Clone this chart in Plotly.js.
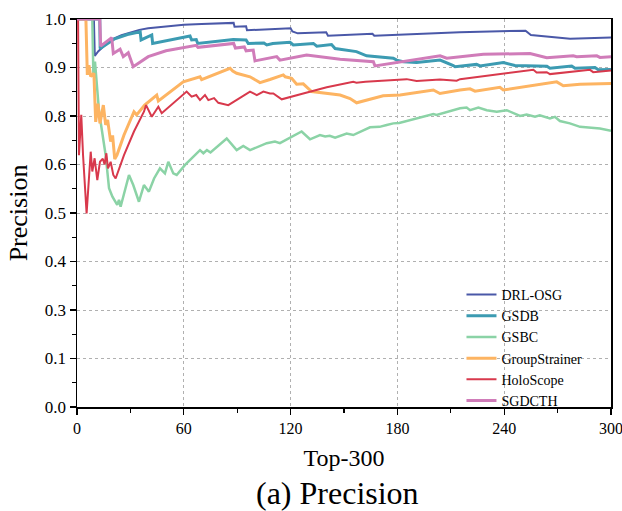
<!DOCTYPE html>
<html>
<head>
<meta charset="utf-8">
<script src="https://cdn.plot.ly/plotly-3.0.1.min.js"></script>
<style>html,body{margin:0;padding:0;background:#fff;}#chart{width:622px;height:511px;}</style>
</head>
<body>
<div id="chart"></div>
<script>
// ---- data ----
const seriesNames = ['DRL-OSG', 'GSDB', 'GSBC', 'GroupStrainer', 'HoloScope', 'SGDCTH'];

const drlX = [0, 9.5, 10, 12, 15, 20, 25, 30, 35, 40, 50, 60, 70, 80, 88, 88.5, 95, 95.5, 108, 120, 121, 124, 140, 141, 166, 167, 215, 252, 255, 265, 277, 300];
const drlY = [1.0, 1.0, 0.905, 0.917, 0.930, 0.948, 0.958, 0.966, 0.972, 0.976, 0.981, 0.985, 0.987, 0.989, 0.990, 0.980, 0.981, 0.971, 0.973, 0.976, 0.968, 0.963, 0.966, 0.957, 0.962, 0.957, 0.966, 0.970, 0.959, 0.954, 0.949, 0.952];

const gsdbX = [0, 12.8, 13, 20.8, 28.3, 35.5, 36, 42, 42.5, 59.7, 63.5, 64.4, 67, 67.8, 87.8, 95, 96.2, 105, 106.6, 110, 119.7, 121.5, 132.8, 134.7, 143, 145, 157, 162.7, 177.7, 179.6, 183.3, 190.8, 204, 211.4, 212.4, 224.5, 226.4, 239.5, 246, 264, 265.7, 277.9, 279.8, 291, 292.9, 300];
const gsdbY = [1.0, 1.0, 0.924, 0.948, 0.960, 0.967, 0.946, 0.959, 0.937, 0.954, 0.956, 0.946, 0.947, 0.937, 0.947, 0.946, 0.937, 0.938, 0.933, 0.937, 0.940, 0.933, 0.937, 0.930, 0.934, 0.924, 0.916, 0.905, 0.899, 0.894, 0.890, 0.888, 0.894, 0.880, 0.877, 0.883, 0.879, 0.888, 0.880, 0.878, 0.873, 0.879, 0.873, 0.875, 0.869, 0.870];

const gsbcX = [0, 8.6, 9.2, 10.1, 12.4, 16.1, 18, 19.9, 22.6, 23.6, 24.5, 29.2, 31.6, 34.8, 37.6, 40.4, 43.3, 46.6, 49.4, 51.3, 54.1, 56, 60.7, 69.1, 71, 73, 75, 84.1, 89.7, 93.4, 97.2, 106.6, 111.2, 114, 126.2, 130.9, 136.5, 139.4, 142, 145, 151.5, 155.2, 164.6, 170, 174, 177.7, 181, 200.2, 202, 215.2, 218.9, 220.8, 225.5, 230.2, 235.8, 241.4, 248.9, 252.6, 257.3, 260, 265.7, 268.5, 271.3, 276.9, 282.6, 293.8, 300];
const gsbcY = [1.0, 1.0, 0.856, 0.890, 0.761, 0.649, 0.564, 0.542, 0.521, 0.534, 0.516, 0.598, 0.572, 0.529, 0.572, 0.555, 0.589, 0.615, 0.602, 0.632, 0.602, 0.598, 0.624, 0.662, 0.654, 0.662, 0.656, 0.692, 0.662, 0.673, 0.662, 0.680, 0.684, 0.680, 0.710, 0.690, 0.701, 0.697, 0.699, 0.694, 0.705, 0.701, 0.721, 0.722, 0.727, 0.731, 0.732, 0.755, 0.753, 0.770, 0.772, 0.765, 0.772, 0.765, 0.761, 0.765, 0.750, 0.754, 0.748, 0.752, 0.744, 0.748, 0.737, 0.731, 0.722, 0.718, 0.712];

const gsX = [0, 5.0, 5.8, 6.7, 7.7, 9.5, 10.5, 11.8, 12.9, 14.8, 16.1, 17.2, 18.9, 20, 21.2, 22.5, 26.4, 32, 33.5, 38, 44.8, 45.7, 59.7, 69.1, 70, 86, 87.5, 89.7, 97.2, 102.8, 108.4, 115.9, 117, 120.6, 123.4, 127.1, 131.8, 140.3, 147.8, 153.4, 157.1, 172, 181.5, 200.2, 203.9, 215.2, 220.8, 223.6, 237.6, 239.5, 269.5, 273.2, 282.6, 300];
const gsY = [1.0, 1.0, 0.856, 0.881, 0.852, 0.860, 0.735, 0.782, 0.731, 0.778, 0.727, 0.740, 0.684, 0.700, 0.639, 0.650, 0.701, 0.761, 0.753, 0.778, 0.804, 0.789, 0.838, 0.851, 0.844, 0.873, 0.866, 0.860, 0.851, 0.836, 0.844, 0.856, 0.851, 0.847, 0.832, 0.833, 0.813, 0.808, 0.804, 0.795, 0.784, 0.802, 0.804, 0.817, 0.808, 0.817, 0.820, 0.814, 0.824, 0.817, 0.838, 0.828, 0.832, 0.834];

const holoX = [0, 0.6, 1.1, 2.4, 3.4, 5.4, 7.7, 8.6, 9.9, 11.4, 12.9, 14.5, 15.5, 16.5, 17.4, 18.9, 20.4, 21.7, 26.4, 32, 37.6, 38.8, 42, 45.7, 47.6, 61.6, 64.4, 67, 69.1, 71.9, 73.8, 77, 79.4, 85, 97.2, 101, 104.7, 108.4, 110.3, 112.2, 115, 127.1, 140.3, 155.2, 157, 162, 185.2, 190.8, 203.9, 213.3, 215.2, 256.4, 258.2, 263.9, 265.7, 288.2, 290, 300];
const holoY = [1.0, 1.0, 0.649, 0.753, 0.649, 0.499, 0.658, 0.607, 0.641, 0.585, 0.632, 0.640, 0.625, 0.654, 0.615, 0.632, 0.598, 0.589, 0.649, 0.710, 0.761, 0.778, 0.748, 0.774, 0.757, 0.813, 0.800, 0.804, 0.791, 0.804, 0.791, 0.796, 0.784, 0.778, 0.813, 0.804, 0.813, 0.808, 0.808, 0.802, 0.793, 0.808, 0.824, 0.838, 0.836, 0.838, 0.845, 0.840, 0.844, 0.841, 0.845, 0.869, 0.862, 0.863, 0.858, 0.869, 0.863, 0.867];

const sgdX = [0, 12.8, 13.3, 19.5, 20.4, 24.2, 26, 28.8, 31.6, 35, 40, 50, 60, 67, 68, 88, 89, 94, 95, 99, 100, 108.4, 112.2, 114, 129, 147.8, 166.5, 167.4, 204, 207.7, 228.3, 254.5, 263.9, 278.8, 280.7, 292, 293.8, 300];
const sgdY = [1.0, 1.0, 0.930, 0.952, 0.911, 0.922, 0.903, 0.913, 0.877, 0.888, 0.903, 0.918, 0.927, 0.932, 0.927, 0.937, 0.925, 0.928, 0.918, 0.920, 0.892, 0.899, 0.903, 0.894, 0.907, 0.896, 0.890, 0.879, 0.905, 0.899, 0.909, 0.911, 0.900, 0.905, 0.903, 0.905, 0.901, 0.903];

const xTickVals = [0, 60, 120, 180, 240, 300];
const xTickText = ['0', '60', '120', '180', '240', '300'];
const yTickVals = [0, 0.125, 0.25, 0.375, 0.5, 0.625, 0.75, 0.875, 1.0];
const yTickText = ['0.0', '0.1', '0.3', '0.4', '0.5', '0.6', '0.8', '0.9', '1.0'];

// ---- styling ----
const colors = ['#4a58a8', '#3c9bb2', '#8bd3a6', '#fdb462', '#d8394c', '#d07cb9'];
const widths = [2, 3, 2.5, 3, 2, 3];
const xs = [drlX, gsdbX, gsbcX, gsX, holoX, sgdX];
const ys = [drlY, gsdbY, gsbcY, gsY, holoY, sgdY];

const font = '"Liberation Serif", "Times New Roman", Times, serif';

const traces = seriesNames.map((n, i) => ({
  type: 'scatter', mode: 'lines', name: n,
  x: xs[i], y: ys[i],
  line: {color: colors[i], width: widths[i]}
}));

const layout = {
  width: 622, height: 511,
  margin: {l: 77, r: 11, t: 19, b: 104},
  paper_bgcolor: '#fff', plot_bgcolor: '#fff',
  font: {family: font, color: '#000', size: 15},
  showlegend: true,
  legend: {
    x: 0.72, xanchor: 'left', y: 0.33, yanchor: 'top',
    bgcolor: 'rgba(0,0,0,0)', borderwidth: 0,
    font: {family: font, size: 14, color: '#000'},
    tracegroupgap: 0
  },
  xaxis: {
    range: [0, 300], tickmode: 'array', tickvals: xTickVals, ticktext: xTickText,
    showline: true, linecolor: '#000', linewidth: 1.5, mirror: true,
    ticks: 'outside', ticklen: 6, tickwidth: 1.2, tickcolor: '#000',
    tickfont: {family: font, size: 16, color: '#000'},
    ticklabeloverflow: 'allow',
    showgrid: true, gridcolor: '#b0b0b0', griddash: 'dot', gridwidth: 1,
    zeroline: false,
    minor: {tickmode: 'linear', tick0: 0, dtick: 30, ticks: 'outside', ticklen: 4, tickcolor: '#000', showgrid: false},
    title: {text: 'Top-300', font: {family: font, size: 24, color: '#000'}, standoff: 13}
  },
  yaxis: {
    range: [0, 1], tickmode: 'array', tickvals: yTickVals, ticktext: yTickText,
    showline: true, linecolor: '#000', linewidth: 1.5, mirror: true,
    ticks: 'outside', ticklen: 6, tickwidth: 1.2, tickcolor: '#000',
    tickfont: {family: font, size: 17, color: '#000'},
    ticklabeloverflow: 'allow',
    showgrid: true, gridcolor: '#b0b0b0', griddash: 'dot', gridwidth: 1,
    zeroline: false,
    minor: {tickmode: 'linear', tick0: 0, dtick: 0.0625, ticks: 'outside', ticklen: 4, tickcolor: '#000', showgrid: false},
    title: {text: 'Precision', font: {family: font, size: 26, color: '#000'}, standoff: 9}
  },
  annotations: [{
    text: '(a) Precision', xref: 'paper', yref: 'paper', x: 0.487, y: -0.222,
    xanchor: 'center', yanchor: 'middle', showarrow: false,
    font: {family: font, size: 32, color: '#000'}
  }]
};

Plotly.newPlot('chart', traces, layout, {displayModeBar: false, staticPlot: true});
</script>
</body>
</html>
